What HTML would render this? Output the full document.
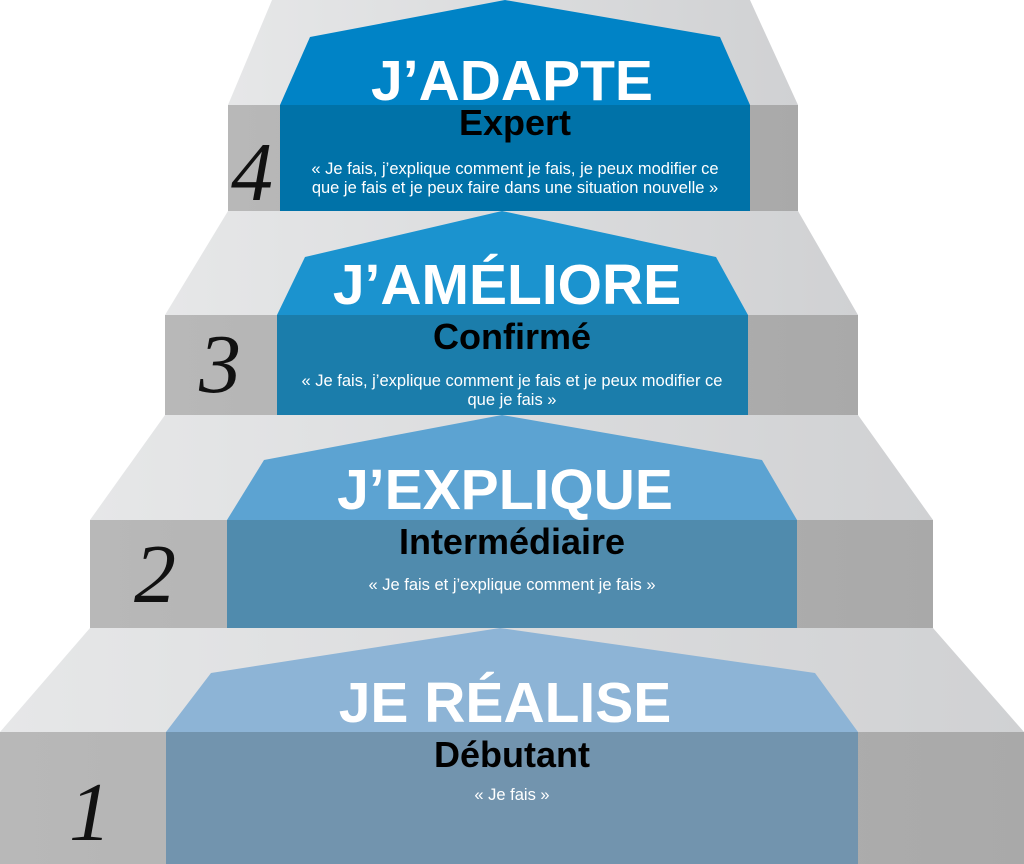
<!DOCTYPE html>
<html><head><meta charset="utf-8"><style>
html,body{margin:0;padding:0;background:#fff;}
svg{display:block;}
.t{font-family:"Liberation Sans",sans-serif;font-weight:bold;fill:#fff;text-anchor:middle;}
.s{font-family:"Liberation Sans",sans-serif;font-weight:bold;fill:#000;text-anchor:middle;}
.q{font-family:"Liberation Sans",sans-serif;fill:#fff;text-anchor:middle;font-size:16.5px;}
.n{font-family:"Liberation Serif",serif;font-style:italic;fill:#111;text-anchor:middle;font-size:84px;}
</style></head><body>
<svg width="1024" height="864" viewBox="0 0 1024 864" xmlns="http://www.w3.org/2000/svg">
<defs>
<linearGradient id="gt" x1="0" x2="1" y1="0" y2="0"><stop offset="0" stop-color="#e6e7e8"/><stop offset="1" stop-color="#d0d1d3"/></linearGradient>
<linearGradient id="gf" x1="0" x2="1" y1="0" y2="0"><stop offset="0" stop-color="#b8b8b8"/><stop offset="1" stop-color="#a9a9a9"/></linearGradient>
</defs>
<polygon points="272,0 750,0 798,105 228,105" fill="url(#gt)"/>
<rect x="228" y="105" width="570" height="106" fill="url(#gf)"/>
<polygon points="280,105 310,37 505,0 720,37 750,105" fill="#0083c6"/>
<rect x="280" y="105" width="470" height="106" fill="#0072a8"/>
<polygon points="228,211 798,211 858,315 165,315" fill="url(#gt)"/>
<rect x="165" y="315" width="693" height="100" fill="url(#gf)"/>
<polygon points="277,315 305,257 502,211 716,257 748,315" fill="#1b93cf"/>
<rect x="277" y="315" width="471" height="100" fill="#1b7dab"/>
<polygon points="165,415 858,415 933,520 90,520" fill="url(#gt)"/>
<rect x="90" y="520" width="843" height="108" fill="url(#gf)"/>
<polygon points="227,520 264,460 502,415 762,460 797,520" fill="#5ca3d2"/>
<rect x="227" y="520" width="570" height="108" fill="#508bad"/>
<polygon points="90,628 933,628 1024,732 0,732" fill="url(#gt)"/>
<rect x="0" y="732" width="1024" height="132" fill="url(#gf)"/>
<polygon points="166,732 211,673 500,628 815,673 858,732" fill="#8db4d6"/>
<rect x="166" y="732" width="692" height="132" fill="#7294ae"/>

<text class="t" x="512" y="100" font-size="57">J’ADAPTE</text>
<text class="s" x="515" y="135" font-size="36">Expert</text>
<text class="q" x="515" y="174">« Je fais, j’explique comment je fais, je peux modifier ce</text>
<text class="q" x="515" y="193">que je fais et je peux faire dans une situation nouvelle »</text>
<text class="n" x="252" y="200">4</text>

<text class="t" x="507" y="304" font-size="57">J’AMÉLIORE</text>
<text class="s" x="512" y="349" font-size="36">Confirmé</text>
<text class="q" x="512" y="386">« Je fais, j’explique comment je fais et je peux modifier ce</text>
<text class="q" x="512" y="405">que je fais »</text>
<text class="n" x="220" y="392">3</text>

<text class="t" x="505" y="509" font-size="57">J’EXPLIQUE</text>
<text class="s" x="512" y="554" font-size="36">Intermédiaire</text>
<text class="q" x="512" y="590">« Je fais et j’explique comment je fais »</text>
<text class="n" x="155" y="602">2</text>

<text class="t" x="505" y="722" font-size="57">JE RÉALISE</text>
<text class="s" x="512" y="767" font-size="36">Débutant</text>
<text class="q" x="512" y="800">« Je fais »</text>
<text class="n" x="90" y="840">1</text>
</svg>
</body></html>
